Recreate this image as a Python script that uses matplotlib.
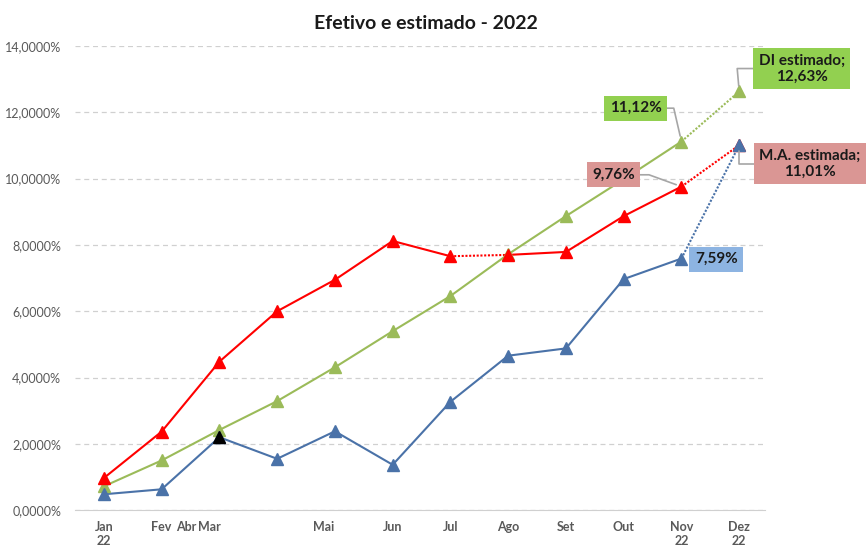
import matplotlib
matplotlib.use("Agg")
import matplotlib.pyplot as plt
from matplotlib.ticker import FuncFormatter

plt.rcParams["font.family"] = ["Lato", "DejaVu Sans"]

# data (% values)
MONTHS = list(range(12))
BLUE = [0.48, 0.63, 2.20, 1.55, 2.38, 1.37, 3.27, 4.66, 4.88, 6.97, 7.59, 11.01]
RED = [0.97, 2.37, 4.48, 6.00, 6.95, 8.12, 7.66, 7.70, 7.79, 8.87, 9.76, 11.01]
GREEN = [0.72, 1.50, 2.42, 3.29, 4.31, 5.40, 6.46, 7.72, 8.87, 9.98, 11.12, 12.63]

# excel date-axis labels land in odd places
TICK_POS = [0, 1, 1.43, 1.83, 3.80, 5, 6, 7, 8, 9, 10, 11]
TICK_LABELS = ["Jan\n22", "Fev", "Abr", "Mar", "Mai", "Jun", "Jul", "Ago",
               "Set", "Out", "Nov\n22", "Dez\n22"]

BLUE_C = "#4A72A8"
RED_C = "#FF0000"
GREEN_C = "#9BBB59"


def draw_series(ax, y, color, dotted_from):
    # solid segments except those starting at an index in dotted_from
    for i in range(len(y) - 1):
        ls = (0, (1.0, 0.8)) if i in dotted_from else "-"
        ax.plot(MONTHS[i:i + 2], y[i:i + 2], color=color, lw=1.5,
                linestyle=ls, zorder=2)
    ax.plot(MONTHS, y, linestyle="none", marker="^", markersize=8,
            color=color, zorder=3)


def label(ax, x, y, text, off, face, conn=None):
    arrow = None
    if conn:
        arrow = dict(arrowstyle="-", color="#A6A6A6", lw=1.2,
                     connectionstyle=conn, shrinkA=0, shrinkB=4)
    ax.annotate(text, xy=(x, y), xytext=off, textcoords="offset points",
                ha="center", va="center", fontsize=11, fontweight="bold",
                color="#1a1a1a", multialignment="center",
                bbox=dict(boxstyle="square,pad=0.35", fc=face, ec="none"),
                arrowprops=arrow, zorder=5)


fig = plt.figure(figsize=(8.66, 5.48), dpi=100)
ax = fig.add_axes([0.0866, 0.069, 0.797, 0.847])

draw_series(ax, GREEN, GREEN_C, {10})
draw_series(ax, RED, RED_C, {6, 10})
draw_series(ax, BLUE, BLUE_C, {10})
ax.plot(MONTHS[2], BLUE[2], linestyle="none", marker="^", markersize=8,
        color="black", zorder=4)

label(ax, MONTHS[10], GREEN[10], "11,12%", (-33, 24), "#92D050",
      "angle,angleA=0,angleB=103,rad=0")
label(ax, MONTHS[11], GREEN[11], "DI estimado;\n12,63%", (45, 16.5), "#92D050",
      "angle,angleA=180,angleB=95,rad=0")
label(ax, MONTHS[10], RED[10], "9,76%", (-49, 8.5), "#DA9694",
      "angle,angleA=0,angleB=160,rad=0")
label(ax, MONTHS[11], RED[11], "M.A. estimada;\n11,01%", (51, -13.5), "#DA9694",
      "angle,angleA=180,angleB=-90,rad=0")
label(ax, MONTHS[10], BLUE[10], "7,59%", (25, -0.5), "#8DB4E2")

ax.set_xlim(-0.5, 11.45)
ax.set_ylim(0, 14)
ax.set_yticks(range(0, 15, 2))
ax.yaxis.set_major_formatter(FuncFormatter(lambda v, p: f"{v:.4f}%".replace(".", ",")))
ax.set_xticks(TICK_POS)
ax.set_xticklabels(TICK_LABELS, fontweight="bold")
ax.tick_params(axis="both", length=0, colors="#595959", labelsize=9)
ax.tick_params(axis="x", pad=8)
ax.tick_params(axis="y", pad=10)
ax.grid(axis="y", color="#D0D0D0", linestyle=(0, (4, 3)), lw=0.9)
ax.set_axisbelow(True)
for s in ("left", "right", "top"):
    ax.spines[s].set_visible(False)
ax.spines["bottom"].set_color("#D0D0D0")

fig.text(0.492, 0.958, "Efetivo e estimado - 2022", ha="center", va="center",
         fontsize=14, fontweight="bold", color="#1a1a1a")

fig.savefig("out.png", dpi=100)
